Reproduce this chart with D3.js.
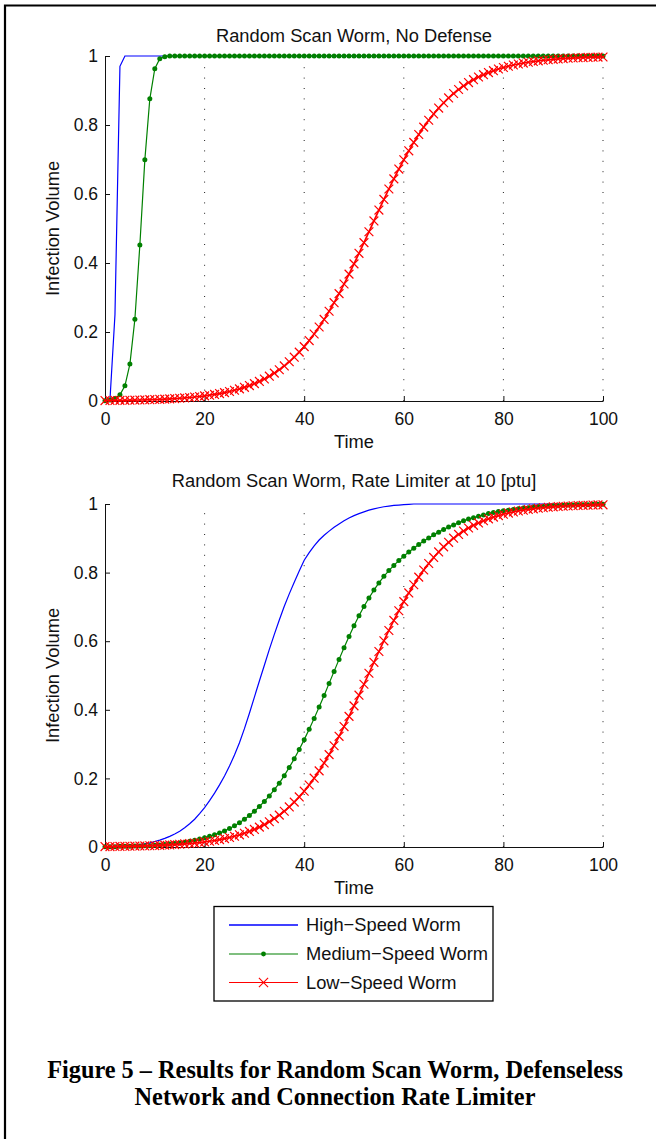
<!DOCTYPE html>
<html>
<head>
<meta charset="utf-8">
<script src="https://cdn.jsdelivr.net/npm/d3@7"></script>
<style>
  body { margin: 0; background: #fff; }
  svg text { font-family: "Liberation Sans", Arial, Helvetica, sans-serif; }
</style>
</head>
<body>
<script>
// time steps of the simulation
var timeSteps = d3.range(0, 101);

var xTicks = [0, 20, 40, 60, 80, 100];
var yTicks = [0, 0.2, 0.4, 0.6, 0.8, 1];

var seriesNames = ["High\u2212Speed Worm", "Medium\u2212Speed Worm", "Low\u2212Speed Worm"];
var panelTitles = ["Random Scan Worm, No Defense", "Random Scan Worm, Rate Limiter at 10 [ptu]"];

// --- no defense
var noDefHigh = [0, 0.004, 0.25, 0.97,
  1, 1, 1, 1, 1, 1, 1, 1, 1, 1,
  1, 1, 1, 1, 1, 1, 1, 1, 1, 1,
  1, 1, 1, 1, 1, 1, 1, 1, 1, 1,
  1, 1, 1, 1, 1, 1, 1, 1, 1, 1,
  1, 1, 1, 1, 1, 1, 1, 1, 1, 1,
  1, 1, 1, 1, 1, 1, 1, 1, 1, 1,
  1, 1, 1, 1, 1, 1, 1, 1, 1, 1,
  1, 1, 1, 1, 1, 1, 1, 1, 1, 1,
  1, 1, 1, 1, 1, 1, 1, 1, 1, 1,
  1, 1, 1, 1, 1, 1, 1];

var noDefMedium = [0.001, 0.003, 0.007, 0.018, 0.044, 0.107, 0.237, 0.452, 0.699, 0.876,
  0.963, 0.992, 0.998,
  1, 1, 1, 1, 1, 1, 1, 1, 1, 1,
  1, 1, 1, 1, 1, 1, 1, 1, 1, 1,
  1, 1, 1, 1, 1, 1, 1, 1, 1, 1,
  1, 1, 1, 1, 1, 1, 1, 1, 1, 1,
  1, 1, 1, 1, 1, 1, 1, 1, 1, 1,
  1, 1, 1, 1, 1, 1, 1, 1, 1, 1,
  1, 1, 1, 1, 1, 1, 1, 1, 1, 1,
  1, 1, 1, 1, 1, 1, 1, 1, 1, 1,
  1, 1, 1, 1, 1, 1, 1, 1];

var noDefLow = [0.0012, 0.0014, 0.0016, 0.0018, 0.0020, 0.0023, 0.0026, 0.0029, 0.0033, 0.0038,
  0.0043, 0.0048, 0.0055, 0.0062, 0.0070, 0.0080, 0.0090, 0.0102, 0.0116, 0.0131,
  0.0148, 0.0168, 0.0190, 0.0215, 0.0243, 0.0275, 0.0311, 0.0351, 0.0396, 0.0447,
  0.0504, 0.0568, 0.0639, 0.0719, 0.0808, 0.0907, 0.1016, 0.1137, 0.1270, 0.1416,
  0.1576, 0.1751, 0.1941, 0.2145, 0.2365, 0.2600, 0.2850, 0.3113, 0.3390, 0.3678,
  0.3975, 0.4281, 0.4591, 0.4905, 0.5220, 0.5534, 0.5843, 0.6145, 0.6439, 0.6722,
  0.6993, 0.7252, 0.7496, 0.7725, 0.7939, 0.8137, 0.8321, 0.8490, 0.8644, 0.8785,
  0.8913, 0.9030, 0.9134, 0.9229, 0.9314, 0.9391, 0.9459, 0.9519, 0.9574, 0.9623,
  0.9666, 0.9704, 0.9738, 0.9768, 0.9795, 0.9819, 0.9840, 0.9859, 0.9876, 0.9890,
  0.9903, 0.9915, 0.9925, 0.9934, 0.9941, 0.9948, 0.9954, 0.9959, 0.9964, 0.9968,
  0.9972];

// --- rate limiter at 10 [ptu]
var limHigh = [0.001, 0.001, 0.002, 0.002, 0.003, 0.004, 0.005, 0.007, 0.009, 0.012,
  0.016, 0.020, 0.025, 0.031, 0.038, 0.046, 0.056, 0.068, 0.081, 0.097,
  0.115, 0.135, 0.157, 0.181, 0.207, 0.236, 0.268, 0.304, 0.345, 0.390,
  0.437, 0.484, 0.530, 0.576, 0.620, 0.662, 0.702, 0.738, 0.772, 0.805,
  0.836, 0.858, 0.878, 0.895, 0.909, 0.921, 0.932, 0.942, 0.951, 0.959,
  0.966, 0.972, 0.977, 0.982, 0.986, 0.989, 0.992, 0.994, 0.996, 0.997,
  0.998, 0.999, 1, 1, 1, 1, 1, 1, 1, 1,
  1, 1, 1, 1, 1, 1, 1, 1, 1, 1,
  1, 1, 1, 1, 1, 1, 1, 1, 1, 1,
  1, 1, 1, 1, 1, 1, 1, 1, 1, 1,
  1];

var limMedium = [0.001, 0.001, 0.001, 0.002, 0.002, 0.002, 0.003, 0.003, 0.004, 0.004,
  0.005, 0.006, 0.007, 0.009, 0.010, 0.012, 0.014, 0.017, 0.020, 0.023,
  0.027, 0.031, 0.036, 0.041, 0.047, 0.054, 0.062, 0.071, 0.081, 0.092,
  0.104, 0.118, 0.133, 0.149, 0.167, 0.186, 0.208, 0.232, 0.257, 0.284,
  0.313, 0.343, 0.375, 0.408, 0.442, 0.477, 0.512, 0.547, 0.581, 0.614,
  0.645, 0.674, 0.701, 0.726, 0.749, 0.770, 0.789, 0.806, 0.821, 0.835,
  0.848, 0.860, 0.871, 0.882, 0.892, 0.901, 0.910, 0.918, 0.926, 0.933,
  0.939, 0.945, 0.951, 0.956, 0.960, 0.964, 0.968, 0.972, 0.975, 0.978,
  0.980, 0.982, 0.984, 0.986, 0.988, 0.989, 0.991, 0.992, 0.993, 0.994,
  0.995, 0.995, 0.996, 0.997, 0.997, 0.998, 0.998, 0.998, 0.999, 0.999,
  0.999];

var limLow = [0.0012, 0.0013, 0.0015, 0.0017, 0.0019, 0.0022, 0.0025, 0.0028, 0.0032, 0.0037,
  0.0042, 0.0047, 0.0054, 0.0061, 0.0069, 0.0079, 0.0089, 0.0101, 0.0115, 0.0130,
  0.0148, 0.0168, 0.0190, 0.0216, 0.0245, 0.0277, 0.0314, 0.0355, 0.0401, 0.0454,
  0.0513, 0.0579, 0.0652, 0.0735, 0.0827, 0.0929, 0.1043, 0.1169, 0.1308, 0.1460,
  0.1627, 0.1809, 0.2007, 0.2220, 0.2449, 0.2693, 0.2952, 0.3226, 0.3511, 0.3808,
  0.4114, 0.4427, 0.4744, 0.5065, 0.5384, 0.5700, 0.6011, 0.6313, 0.6606, 0.6887,
  0.7154, 0.7407, 0.7646, 0.7868, 0.8075, 0.8266, 0.8442, 0.8603, 0.8750, 0.8883,
  0.9004, 0.9113, 0.9211, 0.9300, 0.9378, 0.9449, 0.9512, 0.9568, 0.9618, 0.9662,
  0.9701, 0.9736, 0.9767, 0.9795, 0.9819, 0.9840, 0.9859, 0.9876, 0.9891, 0.9904,
  0.9916, 0.9926, 0.9934, 0.9942, 0.9949, 0.9955, 0.9960, 0.9965, 0.9969, 0.9973,
  0.9976];

var colors = ["#0000ff", "#008000", "#ff0000"];
var markers = ["none", "dot", "cross"];

var width = 656, height = 1139;
var tickFont = 17.5, labelFont = 18.3;

var svg = d3.select("body")
  .append("svg")
    .attr("width", width)
    .attr("height", height);

// page frame (top and left edge only, as in the scanned figure)
svg.append("path")
  .attr("d", "M5," + height + "V5.5H" + width)
  .attr("fill", "none")
  .attr("stroke", "#000")
  .attr("stroke-width", 2.2);

var panels = [
  { title: panelTitles[0], top: 56, bottom: 401, titleY: 42, data: [noDefHigh, noDefMedium, noDefLow] },
  { title: panelTitles[1], top: 504, bottom: 847, titleY: 487, data: [limHigh, limMedium, limLow] }
];

var left = 105, right = 603;

function crossPath(cx, cy, s) {
  return "M" + (cx - s) + "," + (cy - s) + "L" + (cx + s) + "," + (cy + s) +
         "M" + (cx - s) + "," + (cy + s) + "L" + (cx + s) + "," + (cy - s);
}

function drawMarkers(g, values, x, y, type, color) {
  if (type == "dot") {
    g.selectAll(".dot")
      .data(values)
      .enter().append("circle")
        .attr("cx", function(d, i) { return x(timeSteps[i]); })
        .attr("cy", function(d) { return y(d); })
        .attr("r", 2.5)
        .attr("fill", color);
  } else if (type == "cross") {
    g.selectAll(".cross")
      .data(values)
      .enter().append("path")
        .attr("d", function(d, i) { return crossPath(x(timeSteps[i]), y(d), 4.4); })
        .attr("stroke", color)
        .attr("stroke-width", 1.2)
        .attr("fill", "none");
  }
}

panels.forEach(function(p) {
  var x = d3.scaleLinear().domain([0, 100]).range([left, right]);
  var y = d3.scaleLinear().domain([0, 1]).range([p.bottom, p.top]);

  var g = svg.append("g");

  // dotted vertical grid
  g.append("g").selectAll("line")
    .data(xTicks.filter(function(d) { return d > 0; }))
    .enter().append("line")
      .attr("x1", function(d) { return x(d); })
      .attr("x2", function(d) { return x(d); })
      .attr("y1", y(0))
      .attr("y2", y(1))
      .attr("stroke", "#222")
      .attr("stroke-width", 1)
      .attr("stroke-dasharray", "1,9.4");

  // axes, ticks pointing in
  var xAxis = g.append("g")
    .attr("transform", "translate(0," + p.bottom + ")")
    .call(d3.axisBottom(x).tickValues(xTicks).tickSize(-5).tickSizeOuter(0).tickPadding(12)
      .tickFormat(d3.format("~g")));

  var yAxis = g.append("g")
    .attr("transform", "translate(" + left + ",0)")
    .call(d3.axisLeft(y).tickValues(yTicks).tickSize(-5).tickSizeOuter(0).tickPadding(7)
      .tickFormat(d3.format("~g")));

  [xAxis, yAxis].forEach(function(a) {
    a.attr("font-size", tickFont).attr("font-family", null);
    a.select(".domain").attr("stroke", "#111");
    a.selectAll(".tick line").attr("stroke", "#111");
    a.selectAll(".tick text").attr("fill", "#111");
  });

  // title and axis labels
  g.append("text")
    .attr("x", (left + right) / 2)
    .attr("y", p.titleY)
    .attr("text-anchor", "middle")
    .attr("font-size", labelFont)
    .attr("fill", "#111")
    .text(p.title);

  g.append("text")
    .attr("x", (left + right) / 2)
    .attr("y", p.bottom + 47)
    .attr("text-anchor", "middle")
    .attr("font-size", labelFont)
    .attr("fill", "#111")
    .text("Time");

  g.append("text")
    .attr("transform", "translate(59," + ((p.top + p.bottom) / 2) + ") rotate(-90)")
    .attr("text-anchor", "middle")
    .attr("font-size", labelFont)
    .attr("fill", "#111")
    .text("Infection Volume");

  // add in the series
  var line = d3.line()
    .x(function(d, i) { return x(timeSteps[i]); })
    .y(function(d) { return y(d); });

  p.data.forEach(function(values, k) {
    var sg = g.append("g");
    sg.append("path")
      .datum(values)
      .attr("d", line)
      .attr("fill", "none")
      .attr("stroke", colors[k])
      .attr("stroke-width", k == 2 ? 1.7 : 1.2);
    drawMarkers(sg, values, x, y, markers[k], colors[k]);
  });
});

// legend
var legend = svg.append("g");
legend.append("rect")
  .attr("x", 214)
  .attr("y", 906.5)
  .attr("width", 279)
  .attr("height", 94.5)
  .attr("fill", "#fff")
  .attr("stroke", "#000")
  .attr("stroke-width", 1.3);

var legendRows = [925, 954, 982.5];
seriesNames.forEach(function(name, k) {
  var ly = legendRows[k];
  legend.append("line")
    .attr("x1", 229).attr("x2", 298)
    .attr("y1", ly).attr("y2", ly)
    .attr("stroke", colors[k])
    .attr("stroke-width", k == 0 ? 1.5 : 1.2);
  if (markers[k] == "dot") {
    legend.append("circle").attr("cx", 263.5).attr("cy", ly).attr("r", 2.4).attr("fill", colors[k]);
  } else if (markers[k] == "cross") {
    legend.append("path")
      .attr("d", crossPath(263.5, ly, 4.6))
      .attr("stroke", colors[k])
      .attr("stroke-width", 1.1);
  }
  legend.append("text")
    .attr("x", 306)
    .attr("y", ly)
    .attr("dy", "0.35em")
    .attr("font-size", labelFont)
    .attr("fill", "#111")
    .text(name);
});

// figure caption
var captionLines = ["Figure 5 \u2013 Results for Random Scan Worm, Defenseless",
                    "Network and Connection Rate Limiter"];
svg.append("g").selectAll("text")
  .data(captionLines)
  .enter().append("text")
    .attr("x", 335)
    .attr("y", function(d, i) { return 1078 + i * 27; })
    .attr("text-anchor", "middle")
    .style("font-family", "'Liberation Serif', 'Times New Roman', serif")
    .style("font-weight", "bold")
    .attr("font-size", 24.3)
    .text(function(d) { return d; });
</script>
</body>
</html>
